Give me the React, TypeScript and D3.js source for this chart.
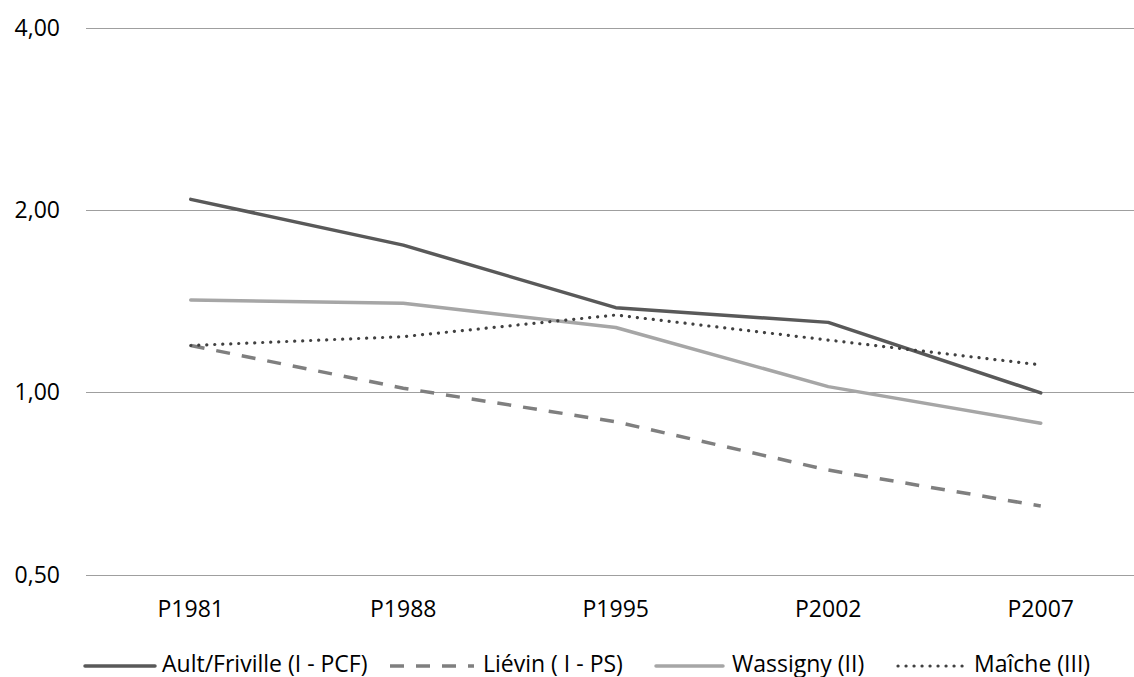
import React, { useEffect, useRef } from "react";
import * as d3 from "d3";

const categories = ["P1981", "P1988", "P1995", "P2002", "P2007"];
const seriesNames = ["Ault/Friville (I - PCF)", "Liévin ( I - PS)", "Wassigny (II)", "Maîche (III)"];
const aultValues = [2.084, 1.751, 1.38, 1.305, 0.998];
const lievinValues = [1.195, 1.016, 0.894, 0.744, 0.649];
const wassignyValues = [1.421, 1.403, 1.28, 1.022, 0.889];
const maicheValues = [1.195, 1.236, 1.342, 1.22, 1.11];
const yTicks = [0.5, 1, 2, 4];
const yTickLabels = ["0,50", "1,00", "2,00", "4,00"];

const W = 1134;
const H = 677;
const FONT = "'Open Sans', sans-serif";

const styles = [
  { color: "#595959", width: 3.5, dash: null as string | null, cap: "round" },
  { color: "#7f7f7f", width: 3.5, dash: "14,12", cap: "butt" },
  { color: "#a6a6a6", width: 3.5, dash: null, cap: "round" },
  { color: "#404040", width: 3.2, dash: "0.1,7.9", cap: "round" },
];

// legend layout (pixels)
const legendLayout = [
  { x1: 85, x2: 155, tx: 162 },
  { x1: 390, x2: 474, tx: 483 },
  { x1: 656, x2: 723, tx: 732 },
  { x1: 898, x2: 965, tx: 974 },
];

export default function App() {
  const ref = useRef<SVGSVGElement | null>(null);

  useEffect(() => {
    const svg = d3.select(ref.current);
    svg.selectAll("*").remove();

    const x = d3.scalePoint<string>().domain(categories).range([84.5, 1147]).padding(0.5);
    const y = d3.scaleLog().base(2).domain([0.5, 4]).range([574.5, 28]);

    svg
      .append("g")
      .selectAll("line")
      .data(yTicks)
      .join("line")
      .attr("x1", 86)
      .attr("x2", W)
      .attr("y1", (d) => Math.round(y(d)) + 0.5)
      .attr("y2", (d) => Math.round(y(d)) + 0.5)
      .attr("stroke", "#9f9f9f")
      .attr("stroke-width", 1);

    svg
      .append("g")
      .selectAll("text")
      .data(yTicks)
      .join("text")
      .attr("x", 60)
      .attr("y", (d) => y(d))
      .attr("dy", "0.35em")
      .attr("text-anchor", "end")
      .attr("font-family", FONT)
      .attr("font-size", 23)
      .attr("fill", "#000")
      .text((d, i) => yTickLabels[i]);

    svg
      .append("g")
      .selectAll("text")
      .data(categories)
      .join("text")
      .attr("x", (d) => x(d)!)
      .attr("y", 617)
      .attr("text-anchor", "middle")
      .attr("font-family", FONT)
      .attr("font-size", 23)
      .attr("fill", "#000")
      .text((d) => d);

    const allSeries = [aultValues, lievinValues, wassignyValues, maicheValues];
    const line = d3
      .line<number>()
      .x((d, i) => x(categories[i])!)
      .y((d) => y(d));

    allSeries.forEach((vals, i) => {
      const s = styles[i];
      const p = svg
        .append("path")
        .datum(vals)
        .attr("d", line)
        .attr("fill", "none")
        .attr("stroke", s.color)
        .attr("stroke-width", s.width)
        .attr("stroke-linejoin", "round")
        .attr("stroke-linecap", s.cap);
      if (s.dash) p.attr("stroke-dasharray", s.dash);
    });

    const lg = svg.append("g");
    const ly = 666;
    seriesNames.forEach((name, i) => {
      const s = styles[i];
      const L = legendLayout[i];
      const l = lg
        .append("line")
        .attr("x1", L.x1)
        .attr("x2", L.x2)
        .attr("y1", ly)
        .attr("y2", ly)
        .attr("stroke", s.color)
        .attr("stroke-width", s.width)
        .attr("stroke-linecap", s.cap);
      if (s.dash) l.attr("stroke-dasharray", s.dash);
      lg.append("text")
        .attr("x", L.tx)
        .attr("y", 672)
        .attr("font-family", FONT)
        .attr("font-size", 23)
        .attr("fill", "#000")
        .text(name);
    });
  }, []);

  return (
    <svg
      ref={ref}
      width={W}
      height={H}
      style={{ position: "absolute", left: 0, top: 0, display: "block", background: "#fff" }}
    />
  );
}
